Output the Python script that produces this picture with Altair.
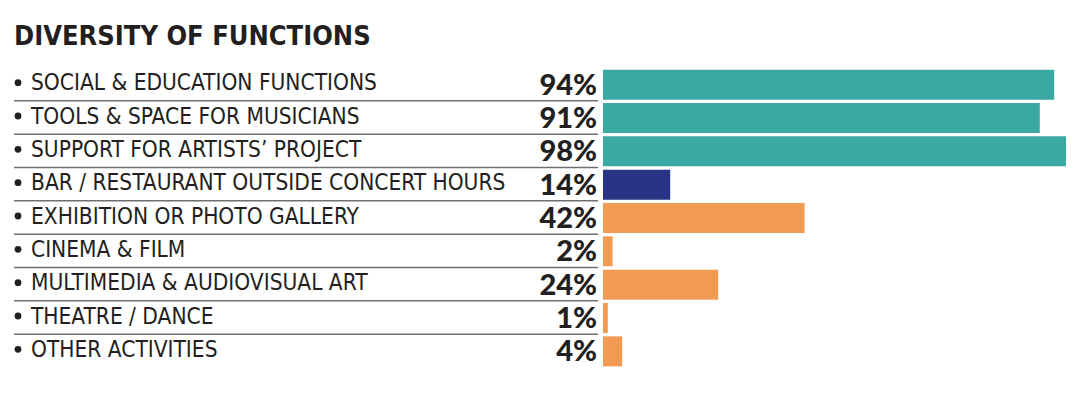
import altair as alt
import pandas as pd

categories = [
    "SOCIAL & EDUCATION FUNCTIONS",
    "TOOLS & SPACE FOR MUSICIANS",
    "SUPPORT FOR ARTISTS\u2019 PROJECT",
    "BAR / RESTAURANT OUTSIDE CONCERT HOURS",
    "EXHIBITION OR PHOTO GALLERY",
    "CINEMA & FILM",
    "MULTIMEDIA & AUDIOVISUAL ART",
    "THEATRE / DANCE",
    "OTHER ACTIVITIES",
]
values = [94, 91, 98, 14, 42, 2, 24, 1, 4]
groups = ["core", "core", "core", "bar", "other", "other", "other", "other", "other"]
group_names = ["core", "bar", "other"]
group_colors = ["#3aa9a2", "#283584", "#f09a54"]
title_text = "DIVERSITY OF FUNCTIONS"

df = pd.DataFrame({
    "cat": categories,
    "value": values,
    "group": groups,
    "label": [f"{v}%" for v in values],
    "sep": [1] * (len(categories) - 1) + [0],
})

label_font = "DejaVu Sans Condensed, Liberation Sans Narrow, sans-serif"
pct_font = "Lato, Open Sans, sans-serif"
ink = "#231f20"

y_scale = alt.Scale(range=[60, 360], paddingInner=0.1, paddingOuter=0.05)
y_enc = alt.Y("cat:N", sort=categories, axis=None, scale=y_scale)
x_scale = alt.Scale(domain=[0, 100], range=[595, 1075])

base = alt.Chart(df)

bars = base.mark_bar(clip=True).encode(
    y=y_enc,
    x=alt.X("value:Q", scale=x_scale, axis=None),
    x2=alt.datum(0),
    color=alt.Color("group:N", scale=alt.Scale(domain=group_names, range=group_colors), legend=None),
)

seps = base.transform_filter("datum.sep == 1").mark_rule(
    color="#707070", strokeWidth=1.5, yOffset=1.2
).encode(
    y=alt.Y("cat:N", sort=categories, axis=None, bandPosition=1, scale=y_scale),
    x=alt.value(6),
    x2=alt.value(590),
)

bullets = base.mark_point(filled=True, shape="circle", size=46, color=ink, opacity=1,
                          yOffset=-2).encode(
    y=y_enc, x=alt.value(10)
)

names = base.mark_text(align="left", baseline="middle", font=label_font, fontSize=22.5,
                       color=ink, dy=-1.5).encode(
    y=y_enc, x=alt.value(23), text="cat:N"
)

pcts = base.mark_text(align="right", baseline="middle", font=pct_font, fontSize=29,
                      fontWeight=900, color=ink, dy=1).encode(
    y=y_enc, x=alt.value(589), text="label:N"
)

title = alt.Chart(pd.DataFrame({"t": [title_text]})).mark_text(
    align="left", baseline="alphabetic", font=label_font, fontSize=27, fontWeight="bold",
    color=ink
).encode(x=alt.value(6), y=alt.value(37), text="t:N")

chart = alt.layer(bars, seps, bullets, names, pcts, title).properties(
    width=1058, height=393, padding=0, autosize=alt.AutoSizeParams(type="none")
).configure_view(stroke=None)

chart.save("out.html", embed_options={"renderer": "svg", "actions": False})
